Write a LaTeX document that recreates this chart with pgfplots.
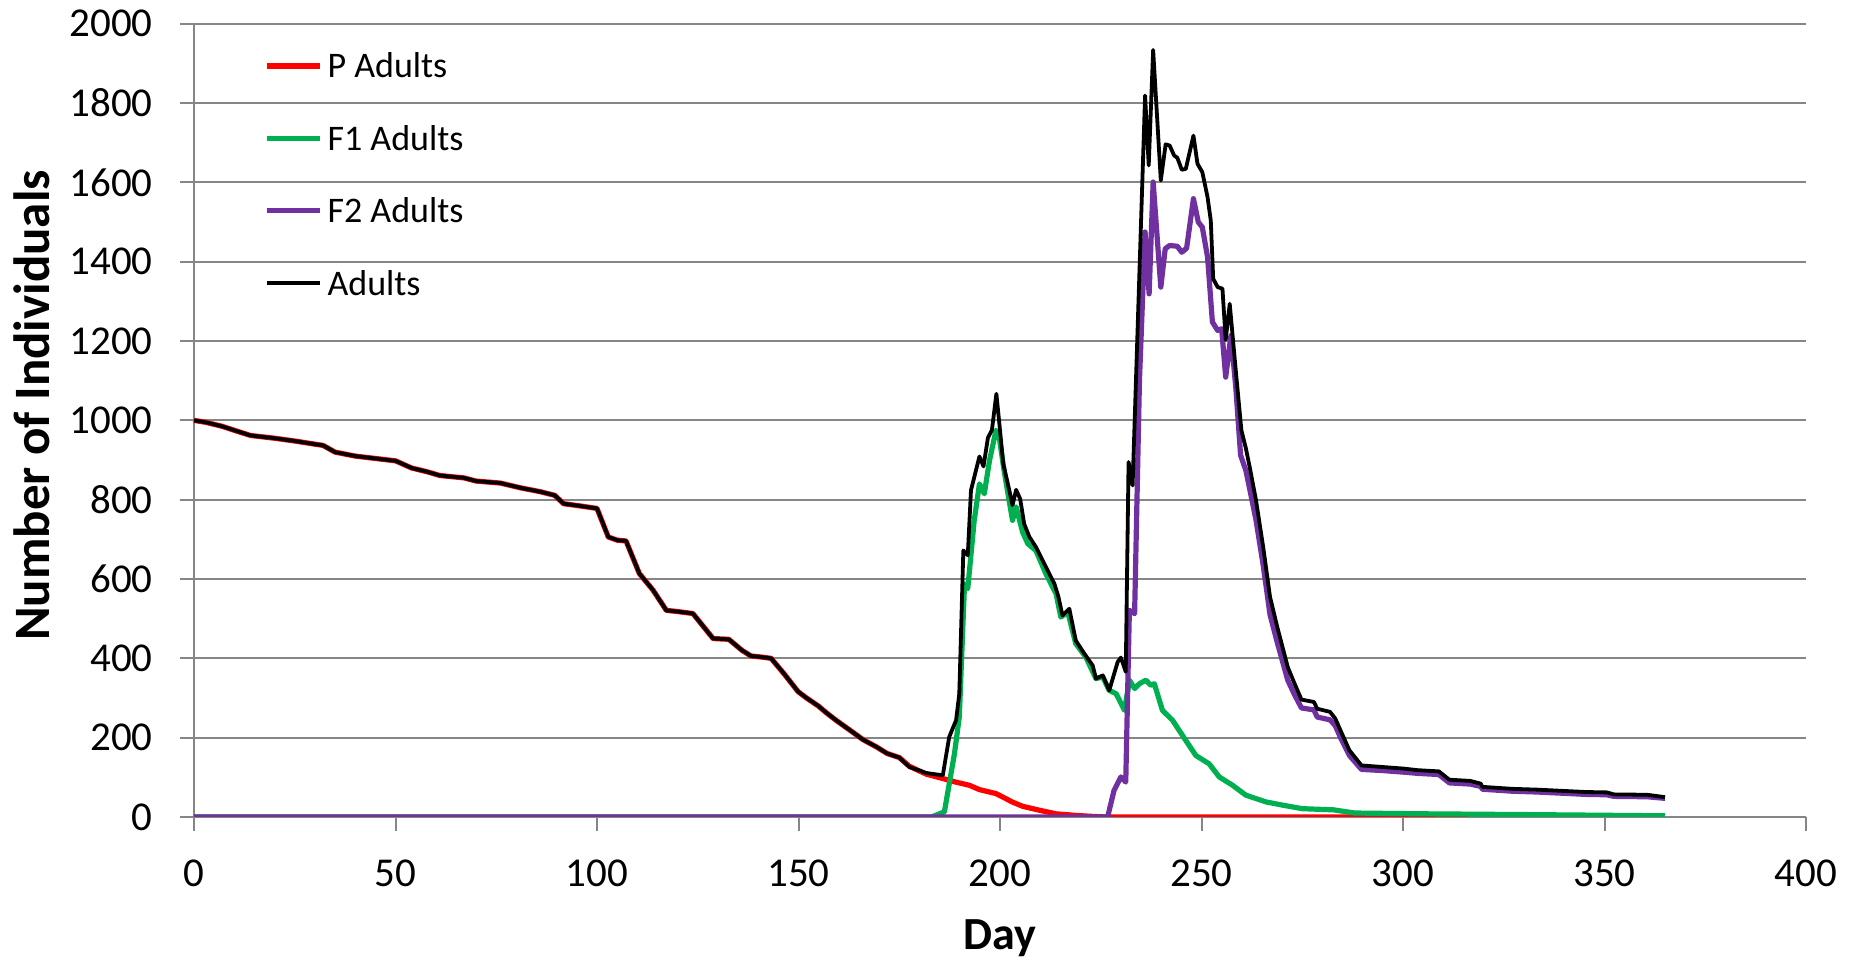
\documentclass[border=0pt]{standalone}
\usepackage{fontspec}
\setmainfont{Carlito}
\usepackage{pgfplots}
\pgfplotsset{compat=1.18}
\definecolor{pred}{RGB}{255,0,0}
\definecolor{fgreen}{RGB}{0,176,80}
\definecolor{fpurple}{RGB}{112,48,160}
\definecolor{gridgray}{RGB}{134,134,134}
\begin{document}
\begin{tikzpicture}
\path[use as bounding box] (-97pt,-72pt) rectangle (836pt,408.5pt);
\begin{axis}[
  scale only axis, width=806pt, height=396.6pt,
  xmin=0, xmax=400, ymin=0, ymax=2000,
  xtick={0,50,...,400}, ytick={0,200,...,2000},
  axis lines=left,
  axis line style={-, draw=gridgray, line width=1pt},
  ymajorgrids, grid style={gridgray, line width=1pt},
  tick align=outside, major tick length=7pt,
  tick style={gridgray, line width=1pt},
  /pgf/number format/assume math mode=true,
  /pgf/number format/1000 sep={},
  ticklabel style={font=\fontsize{20.5}{24}\selectfont, inner sep=0pt},
  xticklabel style={anchor=north, yshift=-14pt},
  yticklabel style={anchor=east, xshift=-13.5pt},
  xlabel={Day}, ylabel={Number of Individuals},
  xlabel style={at={(axis description cs:0.5,0)}, anchor=center, yshift=-60.5pt, font=\fontsize{23}{27}\selectfont\bfseries},
  ylabel style={at={(axis description cs:0,0.5)}, anchor=center, xshift=7.5pt, yshift=81pt, font=\fontsize{25.5}{30}\selectfont\bfseries},
  legend style={draw=none, fill=none, at={(axis cs:17.4,1924)}, anchor=north west,
    inner sep=0pt, outer sep=0pt, row sep=24.2pt, column sep=2.6pt,
    font=\fontsize{18}{21}\selectfont,
    nodes={inner sep=0pt, text height=12pt, text depth=0pt}},
  legend cell align=left,
  legend image code/.code={\draw[#1] (0pt,0pt) -- (26.5pt,0pt);},
  every axis plot/.append style={line join=round},
]
\addplot[pred, line width=2.6pt] coordinates {
(0,1000) (3,995) (7,985) (10,975) (14,962) (20,955) (25,948) (30,940) (32,937)
(35,920) (40,910) (45,904) (50,898) (54,880) (58,870) (61,861) (67,855) (70,847)
(76,842) (81,830) (86,820) (89.5,811) (91.7,790) (96,784) (100,778) (102.8,706)
(105,698) (107.2,696) (110.5,614) (113.9,572) (117.2,521) (120,518) (123.8,513)
(128.8,450) (132.7,448) (136,420) (138.2,406) (141,403) (143.2,400) (146.5,360)
(149.9,316) (152,300) (154.9,280) (157,262) (159.3,244) (163.7,212) (166,195)
(169.3,177) (172,160) (175,150) (177.5,128) (181.7,108) (185.8,97) (189,88)
(192.4,80) (194.9,69) (199,59) (201.5,46) (203,38) (205.6,27) (209.8,17)
(213.9,8) (218.8,4) (222,2) (226.3,0) (365,0)
};
\addlegendentry{P Adults}
\addplot[fgreen, line width=2.6pt] coordinates {
(0,0) (183,0) (186.2,13) (188.7,160) (189.9,252) (191.2,588) (192,576) (193.6,748)
(194.9,840) (196.1,815) (197.4,899) (199,975) (199.8,958) (201,874) (203.1,748)
(204,782) (205.6,718) (206.9,689) (208.9,672) (211.4,613) (213.9,563) (215.1,504)
(216.8,517) (218.8,437) (221.3,403) (223.8,349) (225.5,353) (227.1,319) (228.8,311)
(230.9,269) (232.1,345) (233.4,324) (234.6,336) (236.2,345) (237.4,332) (238.3,336)
(240.3,269) (242.8,244) (246.1,193) (248.6,155) (251.9,134) (254.4,101) (257.7,80)
(261,55) (266,38) (270.6,29) (275,21) (282.8,18) (288,10) (305.4,8) (331.5,6) (365,3)
};
\addlegendentry{F1 Adults}
\addplot[fpurple, line width=2.6pt] coordinates {
(0,0) (226.7,0) (228.3,67) (230,101) (231.2,88) (232.1,521) (233.4,513) (234.6,1100)
(236,1475) (237,1319) (238,1601) (239.9,1336) (241,1433) (242.1,1441) (244,1439)
(245.1,1424) (246.3,1434) (248,1559) (249.2,1500) (250.2,1487) (251.5,1412)
(252.7,1248) (254,1227) (255,1231) (256,1109) (257.3,1214) (258.5,1084) (259.7,912)
(261,874) (262.2,815) (263.5,750) (265.3,635) (267,510) (268.8,440) (271.4,345)
(273.1,308) (274.8,275) (277.9,270) (278.7,252) (281.9,245) (283.2,230) (284.5,200)
(286.7,155) (289.7,120) (295,117) (300.2,113) (303.7,110) (308.9,107) (311.5,86)
(316.7,83) (319.3,77) (319.7,70) (327.1,65) (333.2,63) (345.4,57) (350.6,56)
(352.3,52) (360.6,51) (365,47)
};
\addlegendentry{F2 Adults}
\addplot[black, line width=1.9pt] coordinates {
(0,1000) (3,995) (7,985) (10,975) (14,962) (20,955) (25,948) (30,940) (32,937)
(35,920) (40,910) (45,904) (50,898) (54,880) (58,870) (61,861) (67,855) (70,847)
(76,842) (81,830) (86,820) (89.5,811) (91.7,790) (96,784) (100,778) (102.8,706)
(105,698) (107.2,696) (110.5,614) (113.9,572) (117.2,521) (120,518) (123.8,513)
(128.8,450) (132.7,448) (136,420) (138.2,406) (141,403) (143.2,400) (146.5,360)
(149.9,316) (152,300) (154.9,280) (157,262) (159.3,244) (163.7,212) (166,195)
(169.3,177) (172,160) (175,150) (177.5,126) (181.7,111) (185.8,105)
(187.4,202) (189.1,244) (189.9,311) (190.9,672) (192,660) (192.8,824) (194.9,909)
(195.9,884) (197,956) (198,976) (199.1,1067) (199.8,996) (200.8,891) (202.3,824)
(203.1,786) (204,825) (205,802) (206,739) (207.3,706) (208.9,681) (211.4,630)
(213.5,588) (214.5,555) (215.5,508) (217.2,525) (218.8,445) (220.9,412) (223,382)
(223.8,349) (225.5,357) (227.1,319) (229.2,391) (230,402) (231.2,366) (231.9,895)
(232.9,836) (236,1819) (236.9,1643) (238,1934) (239.9,1605) (241.1,1696)
(242.1,1693) (243.2,1668) (244,1662) (245.1,1632) (246.1,1634) (248,1718)
(249,1647) (250.2,1626) (251.5,1563) (252.3,1504) (252.9,1357) (254,1336)
(255.2,1332) (256,1203) (257,1294) (258.5,1126) (259.9,975) (261,930) (262,880)
(263.5,800) (265.3,681) (267,555) (268.8,479) (271.4,378) (273.1,336) (274.8,296)
(277.9,290) (278.7,273) (281.9,265) (283.2,248) (284.5,218) (286.7,168)
(289.7,130) (295,126) (300.2,122) (303.7,118) (308.9,115) (311.5,94) (316.7,91)
(319.3,84) (319.7,76) (327.1,71) (333.2,69) (345.4,63) (350.6,62) (352.3,57)
(360.6,56) (365,50)
};
\addlegendentry{Adults}
\end{axis}
\end{tikzpicture}
\end{document}
